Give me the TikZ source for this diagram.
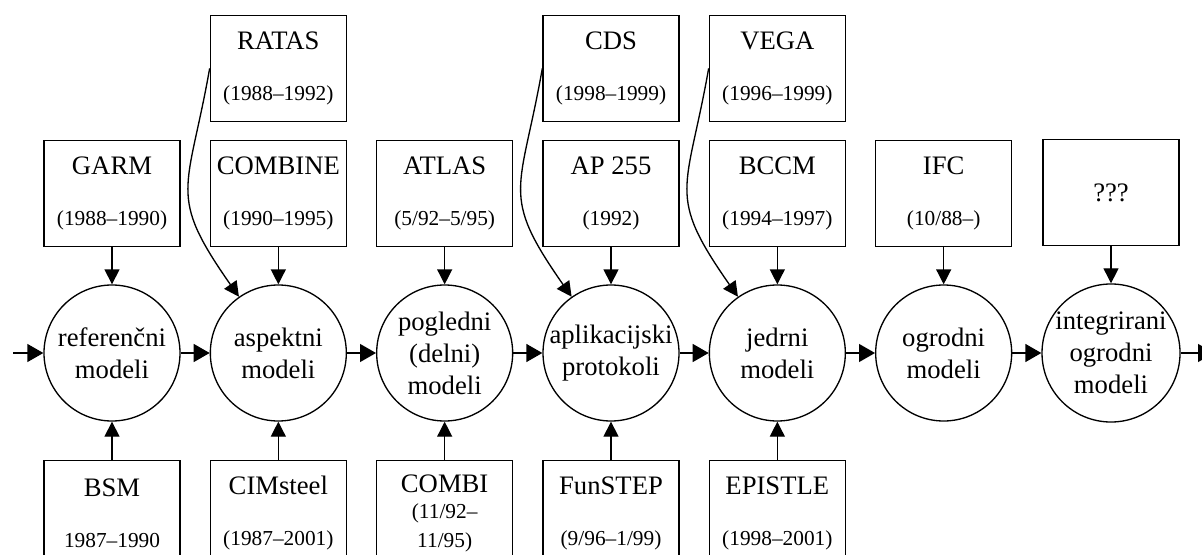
\documentclass[tikz,border=0pt]{standalone}
\usepackage{fontspec}
\setmainfont{Liberation Serif}
\usetikzlibrary{positioning,arrows.meta}

\newcommand{\obdobje}[1]{{\fontsize{16}{19}\selectfont #1}}

\begin{document}
\begin{tikzpicture}[
  x=0.75pt, y=0.75pt,
  >={Triangle[length=12pt, width=13.5pt]},
  node distance=21.75pt,
  faza/.style={circle, draw, line width=1pt, minimum size=102pt, inner sep=0pt, align=center, font=\fontsize{20}{24}\selectfont},
  projekt/.style={draw, line width=1pt, minimum width=102pt, minimum height=79.5pt, inner sep=0pt, align=center, font=\fontsize{20}{24}\selectfont},
  tok/.style={->, line width=1pt},
  vpliv/.style={-{Triangle[length=11.25pt, width=11.25pt]}, line width=1pt}
]
\path[use as bounding box, clip] (0,0) rectangle (1202,554);

% phases of the model evolution
\node[faza] (ref) at (112,201) {referenčni\\modeli};
\node[faza, right=of ref] (asp) {aspektni\\modeli};
\node[faza, right=of asp] (pog) {pogledni\\(delni)\\modeli};
\node[faza, right=of pog] (apl) {aplikacijski\\protokoli};
\node[faza, right=of apl] (jed) {jedrni\\modeli};
\node[faza, right=of jed] (ogr) {ogrodni\\modeli};
\node[faza, right=of ogr] (iog) {integrirani\\ogrodni\\modeli};

\coordinate (vhod)  at (13,201);
\coordinate (izhod) at (1214,201);
\draw[tok] (vhod) -- (ref);
\foreach \a/\b in {ref/asp,asp/pog,pog/apl,apl/jed,jed/ogr,ogr/iog}
  \draw[tok] (\a) -- (\b);
\draw[tok] (iog) -- (izhod);

% projects above
\node[projekt, above=27.75pt of ref] (garm)    {GARM\\[14pt]\obdobje{(1988--1990)}};
\node[projekt, above=27.75pt of asp] (combine) {COMBINE\\[14pt]\obdobje{(1990--1995)}};
\node[projekt, above=27.75pt of pog] (atlas)   {ATLAS\\[14pt]\obdobje{(5/92--5/95)}};
\node[projekt, above=27.75pt of apl] (ap)      {AP 255\\[14pt]\obdobje{(1992)}};
\node[projekt, above=27.75pt of jed] (bccm)    {BCCM\\[14pt]\obdobje{(1994--1997)}};
\node[projekt, above=27.75pt of ogr] (ifc)     {IFC\\[14pt]\obdobje{(10/88--)}};
\node[projekt, above=27.75pt of iog] (neznano) {???};

\node[projekt, above=13.5pt of combine] (ratas) {RATAS\\[14pt]\obdobje{(1988--1992)}};
\node[projekt, above=13.5pt of ap]      (cds)   {CDS\\[14pt]\obdobje{(1998--1999)}};
\node[projekt, above=13.5pt of bccm]    (vega)  {VEGA\\[14pt]\obdobje{(1996--1999)}};

% projects below
\node[projekt, below=28.5pt of ref] (bsm)      {BSM\\[14pt]\obdobje{1987--1990}};
\node[projekt, below=28.5pt of asp] (cimsteel) {CIMsteel\\[14pt]\obdobje{(1987--2001)}};
\node[projekt, below=28.5pt of pog] (combi)    {COMBI\\[-4.5pt]\obdobje{(11/92--}\\[-2.5pt]\obdobje{11/95)}};
\node[projekt, below=28.5pt of apl] (funstep)  {FunSTEP\\[14pt]\obdobje{(9/96--1/99)}};
\node[projekt, below=28.5pt of jed] (epistle)  {EPISTLE\\[14pt]\obdobje{(1998--2001)}};

\foreach \p/\f in {garm/ref,combine/asp,atlas/pog,ap/apl,bccm/jed,ifc/ogr,neznano/iog,
                   bsm/ref,cimsteel/asp,combi/pog,funstep/apl,epistle/jed}
  \draw[vpliv] (\p) -- (\f);

\foreach \p/\f in {ratas/asp,cds/apl,vega/jed}
  \draw[vpliv] (\p.west) to[out=-100, in=125, looseness=1.4] (\f.125);

\end{tikzpicture}
\end{document}
